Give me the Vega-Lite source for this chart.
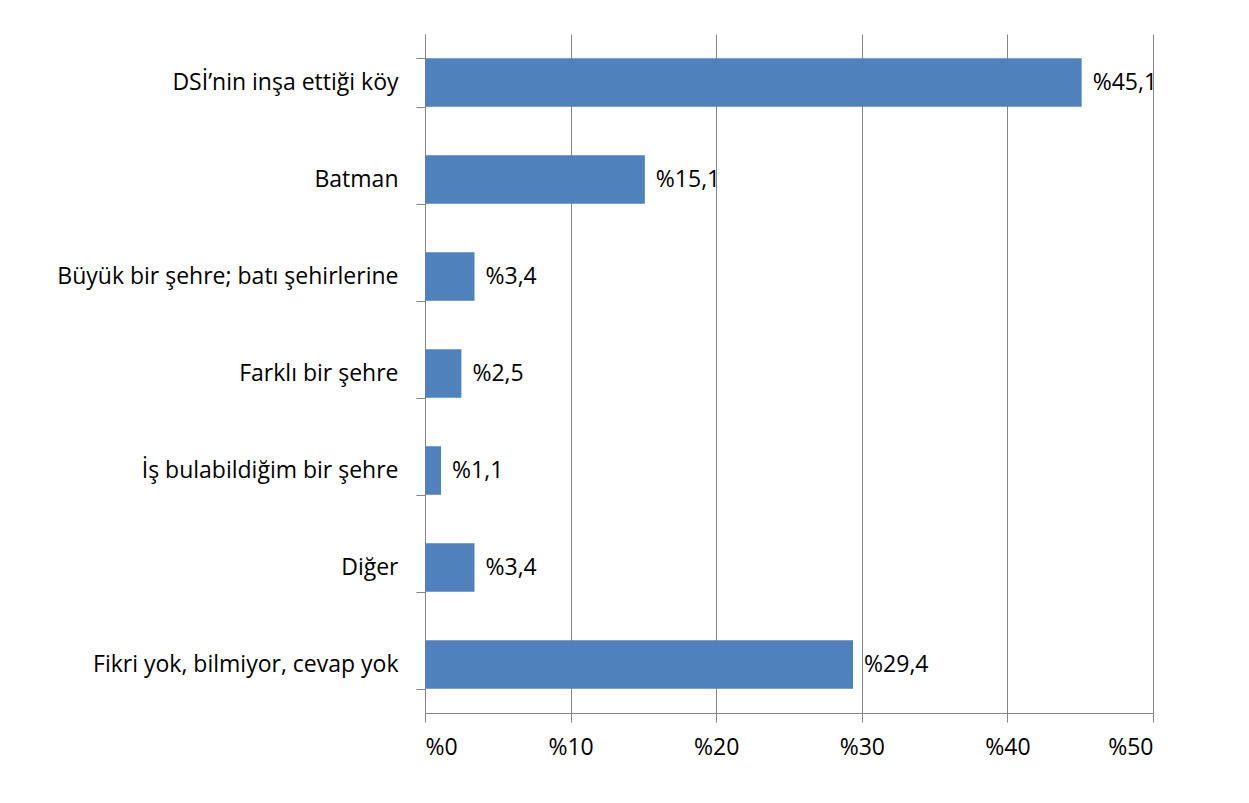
{
  "$schema": "https://vega.github.io/schema/vega-lite/v6.json",
  "autosize": "none",
  "width": 728,
  "height": 679,
  "padding": {"left": 425, "top": 34, "right": 96, "bottom": 90},
  "background": "white",
  "data": {
    "values": [
      {"category": "DSİ’nin inşa ettiği köy", "value": 45.1},
      {"category": "Batman", "value": 15.1},
      {"category": "Büyük bir şehre; batı şehirlerine", "value": 3.4},
      {"category": "Farklı bir şehre", "value": 2.5},
      {"category": "İş bulabildiğim bir şehre", "value": 1.1},
      {"category": "Diğer", "value": 3.4},
      {"category": "Fikri yok, bilmiyor, cevap yok", "value": 29.4}
    ]
  },
  "transform": [
    {"calculate": "'%' + replace(format(datum.value, '.1f'), '.', ',')", "as": "label"}
  ],
  "encoding": {
    "y": {
      "field": "category",
      "type": "nominal",
      "sort": null,
      "scale": {"paddingInner": 0.5, "paddingOuter": 0.25},
      "axis": {
        "title": null,
        "tickBand": "extent",
        "tickSize": 9,
        "tickColor": "#868686",
        "domainColor": "#868686",
        "labelPadding": 18,
        "labelFont": "Open Sans",
        "labelFontSize": 23,
        "labelColor": "#000000",
        "labelLimit": 420,
        "grid": false
      }
    },
    "x": {
      "field": "value",
      "type": "quantitative",
      "scale": {"domain": [0, 50], "nice": false},
      "axis": {
        "title": null,
        "values": [0, 10, 20, 30, 40, 50],
        "labelExpr": "'%' + datum.value",
        "tickSize": 9,
        "tickColor": "#868686",
        "domainColor": "#868686",
        "gridColor": "#868686",
        "gridWidth": 1,
        "labelPadding": 14,
        "labelFont": "Open Sans",
        "labelFontSize": 23,
        "labelColor": "#000000"
      }
    }
  },
  "layer": [
    {"mark": {"type": "bar", "color": "#4F81BD"}},
    {
      "mark": {"type": "text", "align": "left", "dx": 11, "font": "Open Sans", "fontSize": 23, "color": "#000000"},
      "encoding": {"text": {"field": "label"}}
    }
  ],
  "config": {"view": {"stroke": null}}
}
